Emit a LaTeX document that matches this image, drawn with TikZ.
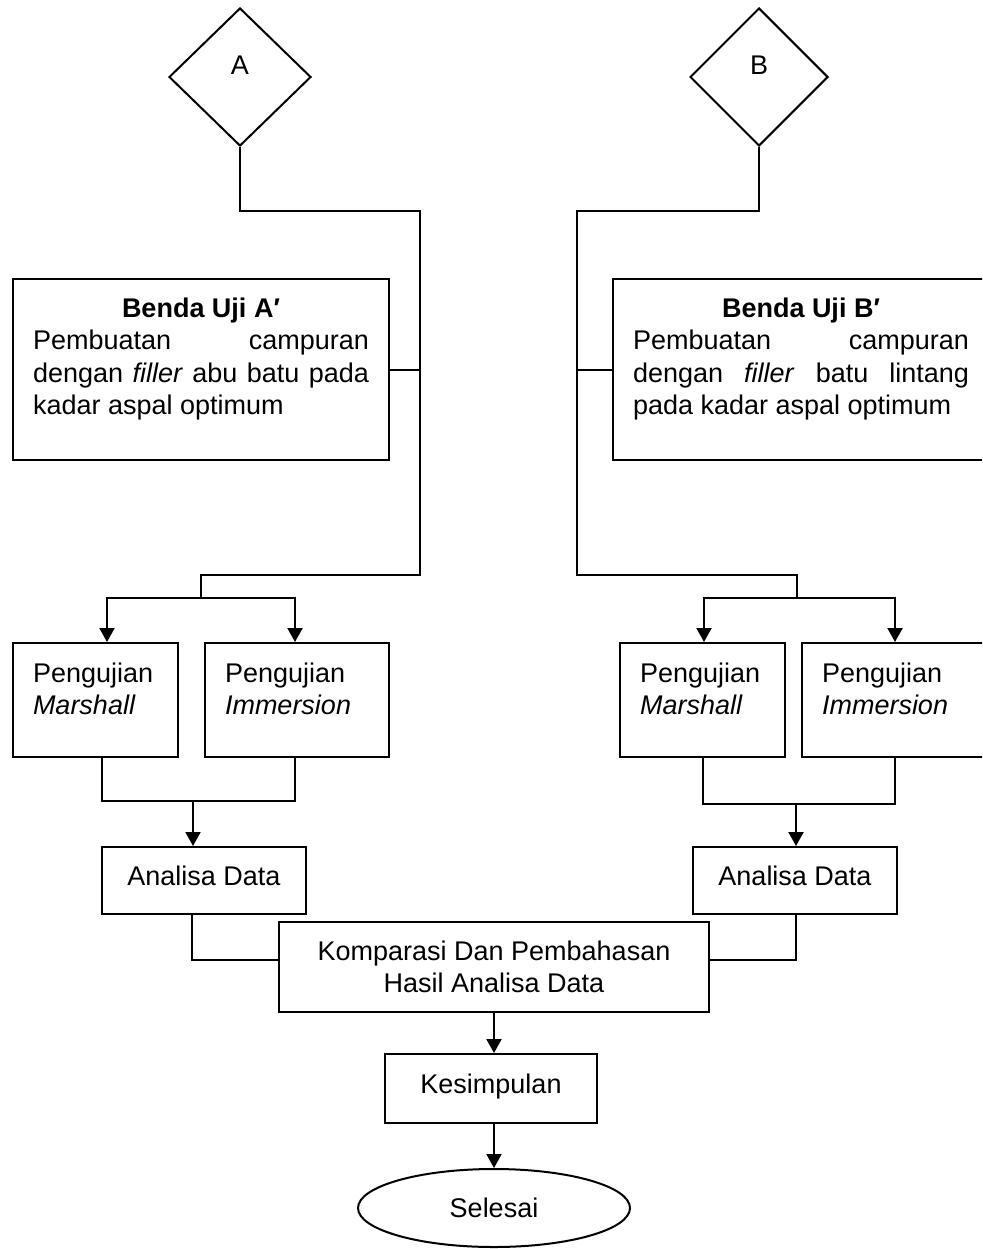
\documentclass[tikz,border=0pt]{standalone}
\usepackage{fontspec}
\setmainfont{Liberation Sans}
\usetikzlibrary{shapes.geometric,arrows.meta}
\newcommand{\dfont}{\fontsize{27pt}{32.5pt}\selectfont}
\tikzset{
  every node/.style={font=\dfont},
  flowbox/.style={draw, line width=2pt, rectangle, inner sep=0pt},
  flowline/.style={line width=2pt},
  arrowline/.style={line width=2pt, -{Triangle[length=14pt,width=15pt]}},
  decide/.style={draw, line width=2pt, diamond, inner sep=0pt, text depth=24pt},
}
\begin{document}
\begin{tikzpicture}[x=1pt,y=-1pt]
\useasboundingbox (0,0) rectangle (982,1249);
\clip (0,0) rectangle (982,1249);

% diamonds
\node[decide, minimum width=142pt, minimum height=138pt] (dA) at (240,77) {A};
\node[decide, minimum width=138pt, minimum height=138pt] (dB) at (759,77) {B};

% specimen boxes
\node[flowbox, minimum width=376pt, minimum height=181pt] (bA) at (201,369.5)
 {\begin{minipage}[c][161pt][t]{336pt}
  {\centering\bfseries\rule{0pt}{28pt}Benda Uji A′\par}
  Pembuatan\hfill campuran\\
  \makebox[\linewidth][s]{dengan \textit{filler} abu batu pada}\\
  kadar aspal optimum
 \end{minipage}};
\node[flowbox, minimum width=376pt, minimum height=181pt] (bB) at (801,369.5)
 {\begin{minipage}[c][161pt][t]{336pt}
  {\centering\bfseries\rule{0pt}{28pt}Benda Uji B′\par}
  Pembuatan\hfill campuran\\
  \makebox[\linewidth][s]{dengan \textit{filler} batu lintang}\\
  pada kadar aspal optimum
 \end{minipage}};

% test boxes
\node[flowbox, minimum width=165pt, minimum height=114pt] (mA) at (95.5,700)
 {\begin{minipage}[c][94pt][t]{125pt}\raggedright
  \rule{0pt}{29pt}Pengujian\\ \textit{Marshall}\end{minipage}};
\node[flowbox, minimum width=184pt, minimum height=114pt] (iA) at (297,700)
 {\begin{minipage}[c][94pt][t]{144pt}\raggedright
  \rule{0pt}{29pt}Pengujian\\ \textit{Immersion}\end{minipage}};
\node[flowbox, minimum width=165pt, minimum height=114pt] (mB) at (702.5,700)
 {\begin{minipage}[c][94pt][t]{125pt}\raggedright
  \rule{0pt}{29pt}Pengujian\\ \textit{Marshall}\end{minipage}};
\node[flowbox, minimum width=184pt, minimum height=114pt] (iB) at (894,700)
 {\begin{minipage}[c][94pt][t]{144pt}\raggedright
  \rule{0pt}{29pt}Pengujian\\ \textit{Immersion}\end{minipage}};

% analysis boxes
\node[flowbox, minimum width=204pt, minimum height=67pt, text depth=10pt] (aA) at (204,880.5) {Analisa Data};
\node[flowbox, minimum width=204pt, minimum height=67pt, text depth=10pt] (aB) at (795,880.5) {Analisa Data};

% comparison, conclusion, end
\node[flowbox, minimum width=430pt, minimum height=90pt, align=center] (kom) at (494,967)
 {Komparasi Dan Pembahasan\\Hasil Analisa Data};
\node[flowbox, minimum width=212pt, minimum height=69pt, text depth=9pt] (kes) at (491,1088.5) {Kesimpulan};
\node[draw, line width=2pt, ellipse, inner sep=0pt, minimum width=272pt, minimum height=78pt] (sel) at (494,1208) {Selesai};

% junction coordinates
\coordinate (jA1) at (420,211);
\coordinate (jA2) at (420,575);
\coordinate (jA3) at (201,598);
\coordinate (jA4) at (193,801);
\coordinate (jB1) at (577,211);
\coordinate (jB2) at (577,575);
\coordinate (jB3) at (797,598);
\coordinate (jB4) at (796,804);

% left branch
\draw[flowline] (dA.south) |- (jA1) -- (jA2) -| (jA3);
\draw[flowline] (bA.east) -- (bA.east -| jA1);
\draw[arrowline] (jA3) -| ([xshift=11.5pt]mA.north);
\draw[arrowline] (jA3) -| ([xshift=-2pt]iA.north);
\draw[flowline] ([xshift=6.5pt]mA.south) |- (jA4) -| ([xshift=-2pt]iA.south);
\draw[arrowline] (jA4) -- (jA4 |- aA.north);

% right branch
\draw[flowline] (dB.south) |- (jB1) -- (jB2) -| (jB3);
\draw[flowline] (bB.west) -- (bB.west -| jB1);
\draw[arrowline] (jB3) -| ([xshift=1.5pt]mB.north);
\draw[arrowline] (jB3) -| ([xshift=1pt]iB.north);
\draw[flowline] ([xshift=0.5pt]mB.south) |- (jB4) -| ([xshift=1pt]iB.south);
\draw[arrowline] (jB4) -- (jB4 |- aB.north);

% merge
\draw[flowline] ([xshift=-12pt]aA.south) |- ([yshift=7pt]kom.west);
\draw[flowline] ([xshift=1pt]aB.south) |- ([yshift=7pt]kom.east);
\draw[arrowline] (kom.south) -- (kom.south |- kes.north);
\draw[arrowline] (kes.south -| sel.north) -- (sel.north);
\end{tikzpicture}
\end{document}
